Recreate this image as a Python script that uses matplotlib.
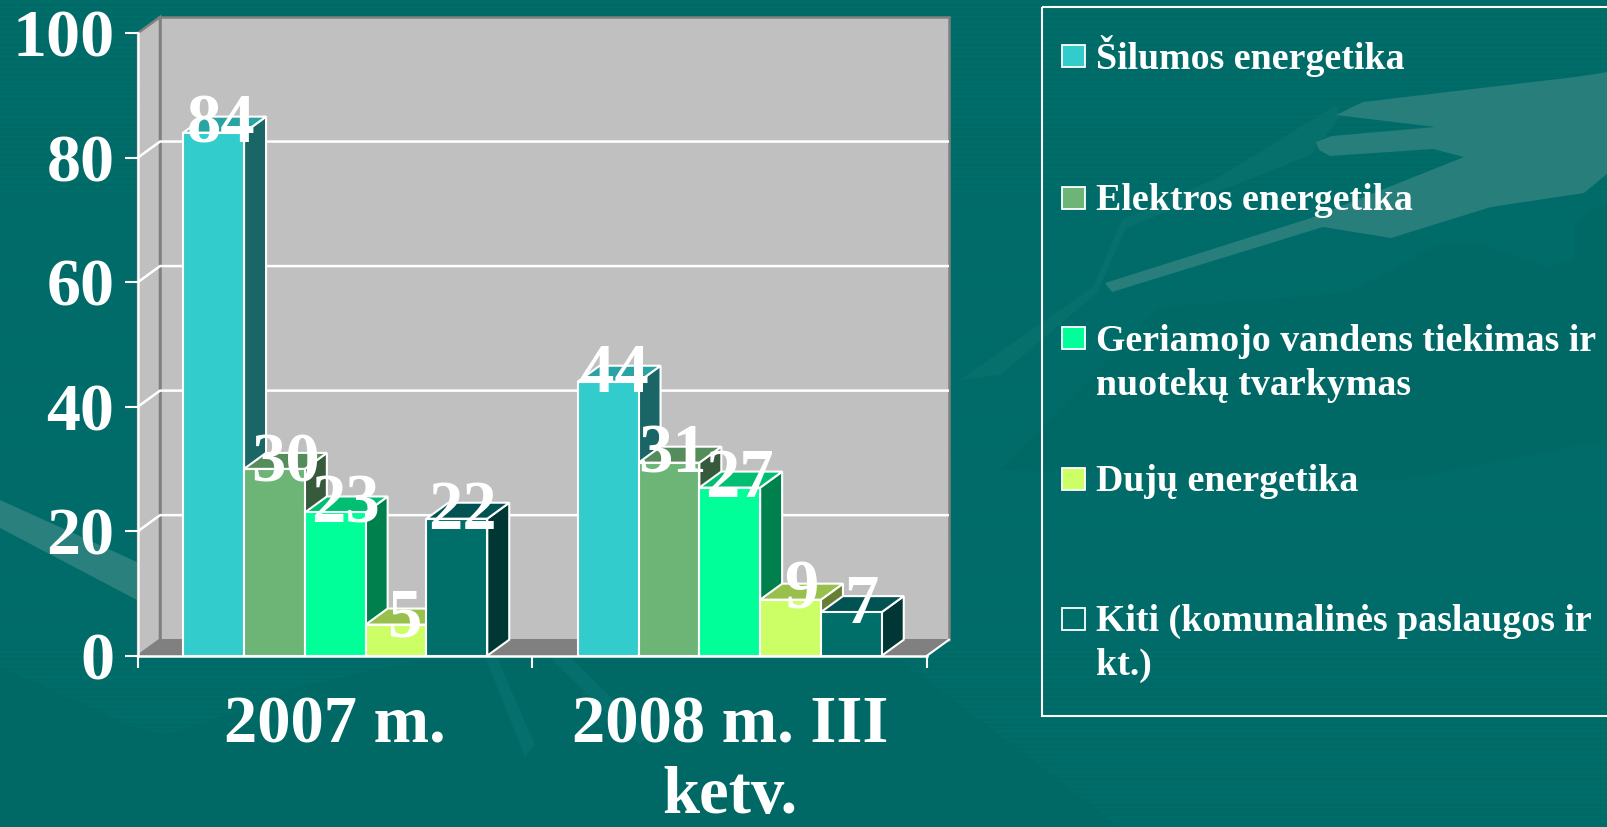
import numpy as np
import matplotlib
matplotlib.use("Agg")
import matplotlib.pyplot as plt
from matplotlib.patches import Polygon, Rectangle
from matplotlib.colors import to_rgb

# ---- data ----
categories = ["2007 m.", "2008 m. III\nketv."]
series_names = ["Šilumos energetika", "Elektros energetika",
                "Geriamojo vandens tiekimas ir\nnuotekų tvarkymas",
                "Dujų energetika", "Kiti (komunalinės paslaugos ir\nkt.)"]
silumos = [84, 44]
elektros = [30, 31]
vandens = [23, 27]
duju = [5, 9]
kiti = [22, 7]
yticks = [0, 20, 40, 60, 80, 100]

series_values = [silumos, elektros, vandens, duju, kiti]
front = ["#33CCCC", "#6DB577", "#00FF99", "#CCFF66", "#006F6A"]
top = ["#29A3A3", "#558C5B", "#00BF73", "#99BF4D", "#005352"]
side = ["#1A6666", "#365A3B", "#00804D", "#668033", "#003735"]

plt.rcParams["font.family"] = ["Liberation Serif", "DejaVu Serif"]
plt.rcParams["font.weight"] = "bold"
W, H = 1608, 827
fig = plt.figure(figsize=(W / 100, H / 100), dpi=100)

# ---- slide background (pixel coordinates) ----
bg = fig.add_axes([0, 0, 1, 1], zorder=0)
bg.axis("off")
rows = np.arange(H)
base = np.array(to_rgb("#006C69"))
stripe = (np.sin(rows * 2 * np.pi / 5.0) > 0).astype(float)
amp = 0.012 * np.clip(np.abs(rows - 420) / 350.0, 0.25, 1.0)
img = base[None, None, :] + (stripe * amp - amp / 2)[:, None, None]
img = np.repeat(img, 2, axis=1)
bg.imshow(img, extent=(0, W, H, 0), aspect="auto", zorder=0, interpolation="nearest")
bg.set_xlim(0, W)
bg.set_ylim(H, 0)

shapes = [
    # broad lower-left darker area
    ([(0, 667), (133, 727), (167, 735), (213, 720), (300, 687), (420, 660), (900, 660),
      (1120, 827), (0, 827)], "#006865"),
    # dark area under the hand
    ([(1000, 470), (1160, 307), (1349, 293), (1433, 247), (1475, 242), (1550, 267), (1575, 260),
      (1575, 223), (1608, 200), (1608, 440), (1400, 480)], "#006966"),
    # faint band behind the hand
    ([(960, 380), (1093, 287), (1122, 220), (1219, 177), (1336, 105), (1340, 117), (1311, 155),
      (1126, 228), (1097, 293), (1000, 375)], "#05706C"),
    # hand
    ([(1336, 115), (1363, 102), (1575, 77), (1608, 72), (1608, 173), (1584, 193),
      (1491, 207), (1391, 238), (1323, 227), (1112, 292), (1105, 283), (1311, 218),
      (1464, 157), (1433, 149), (1330, 156), (1319, 150), (1316, 142), (1332, 136), (1435, 127)],
     "#287E7B"),
    # lower-left sweep
    ([(0, 500), (137, 562), (137, 600), (0, 528)], "#2A807C"),
    # faint streaks below the axis
    ([(485, 657), (497, 657), (535, 745), (525, 757)], "#046F6C"),
    ([(549, 657), (570, 657), (650, 735), (640, 745)], "#046F6C"),
]
for pts, col in shapes:
    bg.add_patch(Polygon(pts, closed=True, facecolor=col, edgecolor="none", zorder=1))

# ---- plot axes: front plane of the 3-D box ----
x0, x1, y_bottom, y_top = 138, 927, 655.7, 33
ax = fig.add_axes([x0 / W, 1 - y_bottom / H, (x1 - x0) / W, (y_bottom - y_top) / H], zorder=2)
ax.patch.set_alpha(0)
ax.set_xlim(0, 2)
ax.set_ylim(0, 100)
for s in ax.spines.values():
    s.set_visible(False)

px_x = 2 / (x1 - x0)
px_y = 100 / (y_bottom - y_top)
dx, dy = 22 * px_x, 16 * px_y
white_lw = 1.5


def poly(pts, fc, ec="white", lw=white_lw, z=2):
    ax.add_patch(Polygon(pts, closed=True, facecolor=fc, edgecolor=ec, linewidth=lw,
                         joinstyle="miter", clip_on=False, zorder=z))


# walls and floor
poly([(dx, dy), (2 + dx, dy), (2 + dx, 100 + dy), (dx, 100 + dy)], "#C0C0C0", "#808080", 1.8, 1)
poly([(0, 0), (dx, dy), (dx, 100 + dy), (0, 100)], "#C0C0C0", "#808080", 1.8, 1)
poly([(0, 0), (2, 0), (2 + dx, dy), (dx, dy)], "#808080", "#808080", 1.0, 1)
for v in yticks[1:-1]:
    ax.plot([0, dx, 2 + dx], [v, v + dy, v + dy], color="white", lw=1.8, zorder=1.5, clip_on=False,
            solid_capstyle="butt")
ax.plot([0, 0], [0, 100], color="white", lw=1.8, zorder=1.6, clip_on=False)
ax.plot([2, 2 + dx], [0, dy], color="white", lw=1.5, zorder=1.6, clip_on=False)
ax.plot([0, 2], [0, 0], color="white", lw=1.8, zorder=6, clip_on=False)

# bars
bar_w = 60.8 * px_x
n = len(series_values)
label_dx = [[7, 6], [11, 4], [10, 10], [8, 11], [6, 10]]
label_dy = [[10, 10], [13, 10], [10, 9], [12, 9], [10, 11]]
for i, vals in enumerate(series_values):
    xs = [c + 0.5 + (i - (n - 1) / 2) * bar_w for c in range(len(categories))]
    z = 3 + i * 0.1
    for j, (xc, v) in enumerate(zip(xs, vals)):
        l, r = xc - bar_w / 2, xc + bar_w / 2
        zz = z + j
        poly([(r, 0), (r + dx, dy), (r + dx, v + dy), (r, v)], side[i], z=zz)
        poly([(l, v), (r, v), (r + dx, v + dy), (l + dx, v + dy)], top[i], z=zz)
    ax.bar(xs, vals, width=bar_w, color=front[i], edgecolor="white", linewidth=white_lw,
           zorder=z + 1.5, clip_on=False)
    for j, (xc, v) in enumerate(zip(xs, vals)):
        ax.annotate(str(v), xy=(xc, v), xytext=(label_dx[i][j] * 0.72, -label_dy[i][j] * 0.72),
                    textcoords="offset points", ha="center", va="baseline",
                    fontsize=49.5, color="white", fontweight="bold", zorder=8, annotation_clip=False)

# ticks
ax.set_yticks(yticks)
ax.set_yticklabels([str(v) for v in yticks])
ax.tick_params(axis="y", length=9.4, width=1.5, color="white", labelcolor="white",
               labelsize=49, pad=7.5)
ax.set_xticks([0, 1, 2])
ax.set_xticklabels([])
ax.tick_params(axis="x", which="major", length=8.6, width=1.5, color="white")
ax.set_xticks([0.5, 1.5], minor=True)
ax.set_xticklabels(categories, minor=True, fontsize=48, color="white", linespacing=1.2,
                   fontweight="bold")
ax.tick_params(axis="x", which="minor", length=0, pad=29)
for t in ax.get_yticklabels():
    t.set_fontweight("bold")

# ---- legend panel ----
lg = fig.add_axes([0, 0, 1, 1], zorder=3)
lg.set_xlim(0, W)
lg.set_ylim(H, 0)
lg.axis("off")
lg.add_patch(Rectangle((1042, 7), 700, 709, facecolor="none", edgecolor="white", linewidth=1.5))
swatch_tops = [45, 187, 327, 468, 608]
baselines = [69, 210, 351, 491, 631]
for name, fc, st, bl in zip(series_names, front, swatch_tops, baselines):
    lg.add_patch(Rectangle((1062, st), 23, 22, facecolor=fc, edgecolor="white", linewidth=1.3))
    for k, line in enumerate(name.split("\n")):
        lg.text(1096, bl + k * 44, line, fontsize=27.3, color="white", fontweight="bold",
                ha="left", va="baseline")

fig.savefig("out.png", dpi=100)
